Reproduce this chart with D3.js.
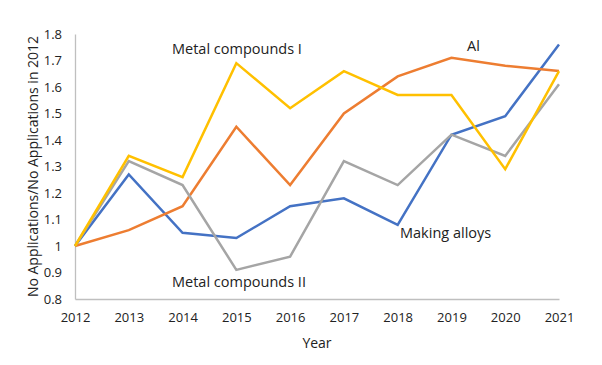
<!DOCTYPE html>
<html>
<head>
<meta charset="utf-8">
<script src="https://cdn.jsdelivr.net/npm/d3@7"></script>
<style>
  body { margin: 0; background: #fff; }
  text { font-family: "Open Sans", "Noto Sans", sans-serif; fill: #222; }
</style>
</head>
<body>
<div id="chart"></div>
<script>
const years = [2012, 2013, 2014, 2015, 2016, 2017, 2018, 2019, 2020, 2021];
const makingAlloys = [1.0, 1.27, 1.05, 1.03, 1.15, 1.18, 1.08, 1.42, 1.49, 1.76];
const aluminium = [1.0, 1.06, 1.15, 1.45, 1.23, 1.50, 1.64, 1.71, 1.68, 1.66];
const metalCompoundsII = [1.0, 1.32, 1.23, 0.91, 0.96, 1.32, 1.23, 1.42, 1.34, 1.61];
const metalCompoundsI = [1.0, 1.34, 1.26, 1.69, 1.52, 1.66, 1.57, 1.57, 1.29, 1.66];
const yTicks = [0.8, 0.9, 1, 1.1, 1.2, 1.3, 1.4, 1.5, 1.6, 1.7, 1.8];

const width = 602, height = 365;
const margin = { left: 75, right: 43, top: 34, bottom: 66 };

const series = [
    { name: 'Making alloys', values: makingAlloys, color: '#4472C4', lx: 400, ly: 238 },
    { name: 'Al', values: aluminium, color: '#ED7D31', lx: 467, ly: 51 },
    { name: 'Metal compounds II', values: metalCompoundsII, color: '#A5A5A5', lx: 172, ly: 287 },
    { name: 'Metal compounds I', values: metalCompoundsI, color: '#FFC000', lx: 172, ly: 54 }
];

const svg = d3.select('#chart').append('svg')
    .attr('width', width)
    .attr('height', height);

const x = d3.scaleLinear()
    .domain([2012, 2021])
    .range([margin.left, width - margin.right]);

const y = d3.scaleLinear()
    .domain([0.8, 1.8])
    .range([height - margin.bottom, margin.top]);

// axes
const xAxis = svg.append('g')
    .attr('transform', `translate(0,${height - margin.bottom})`)
    .call(d3.axisBottom(x).tickValues(years).tickFormat(d3.format('d')).tickSize(0).tickPadding(14));
xAxis.select('.domain').attr('stroke', '#BFBFBF').attr('stroke-width', 1.3);
xAxis.selectAll('text').style('font-size', '13px').attr('fill', '#222');

const yAxis = svg.append('g')
    .attr('transform', `translate(${margin.left},0)`)
    .call(d3.axisLeft(y).tickValues(yTicks).tickFormat(d => d3.format('')(+d.toFixed(1))).tickSize(0).tickPadding(13));
yAxis.select('.domain').attr('stroke', '#BFBFBF').attr('stroke-width', 1.3);
yAxis.selectAll('text').style('font-size', '13px').attr('fill', '#222');

// lines
const line = d3.line()
    .x((d, i) => x(years[i]))
    .y(d => y(d));

svg.append('g').selectAll('path')
    .data(series)
    .enter().append('path')
    .attr('d', d => line(d.values))
    .attr('fill', 'none')
    .attr('stroke', d => d.color)
    .attr('stroke-width', 2.5)
    .attr('stroke-linejoin', 'miter');

// series labels
svg.append('g').selectAll('text')
    .data(series)
    .enter().append('text')
    .attr('x', d => d.lx)
    .attr('y', d => d.ly)
    .style('font-size', '14.5px')
    .text(d => d.name);

// axis titles
svg.append('text')
    .attr('x', (margin.left + width - margin.right) / 2)
    .attr('y', 348)
    .attr('text-anchor', 'middle')
    .style('font-size', '14px')
    .text('Year');

svg.append('text')
    .attr('transform', `translate(38,${(margin.top + height - margin.bottom) / 2}) rotate(-90)`)
    .attr('text-anchor', 'middle')
    .style('font-size', '14px')
    .text('No Applications/No Applications in 2012');
</script>
</body>
</html>
